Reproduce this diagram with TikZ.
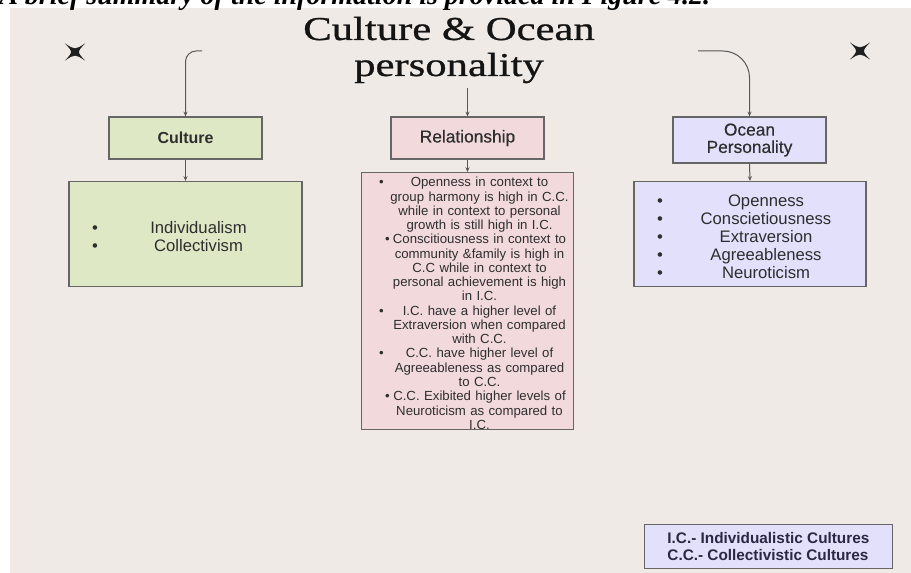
\documentclass[tikz,border=0pt]{standalone}
\usepackage{fontspec}
\setmainfont{Liberation Sans}
\newfontfamily\titlefont{Liberation Serif}[FakeStretch=1.28, FakeBold=0.8]
\newfontfamily\capfont{Liberation Serif}
\newfontfamily\medfont{Liberation Sans}[FakeBold=0.4]
\usetikzlibrary{arrows.meta}

\definecolor{paper}{HTML}{EFEAE6}
\definecolor{culfill}{HTML}{DFE8C5}
\definecolor{relfill}{HTML}{F2D9DB}
\definecolor{ocfill}{HTML}{E2E0FB}
\definecolor{edge}{HTML}{666666}
\definecolor{ink}{HTML}{2E2E2E}

% bullet lines: text centred right of \listind
\newlength{\listind}
\newcommand{\bpoint}[2][9pt]{\par\noindent\rlap{\hspace*{#1}\textbullet}\hspace*{\listind}\makebox[\dimexpr\hsize-\listind\relax][c]{#2}}
\newcommand{\bcont}[1]{\par\noindent\hspace*{\listind}\makebox[\dimexpr\hsize-\listind\relax][c]{#1}}
\newcommand{\listsetup}[2]{\setlength{\listind}{#1}\baselineskip=#2\relax\lineskiplimit=-10pt\parskip=0pt\relax}

\tikzset{
  box/.style={draw=edge, line width=0.9pt, text=ink, inner ysep=0pt},
  headbox/.style={box, minimum width=114.75pt, minimum height=31.5pt, align=center},
  listbox/.style={box, inner xsep=8.25pt, minimum height=78.75pt},
  conn/.style={draw=ink!80, line width=0.75pt, ->},
  sparkle/.pic={\fill[black!88] (-10,-8.5) .. controls (0,-2) .. (10,-8.5)
    .. controls (2,0) .. (10,8.5) .. controls (0,2) .. (-10,8.5)
    .. controls (-2,0) .. cycle;}
}

\begin{document}
\begin{tikzpicture}[x=0.75pt, y=-0.75pt, >={Stealth[length=3.5pt,width=3pt]}]
    \useasboundingbox (0,0) rectangle (911,573);
    \fill[white] (0,0) rectangle (911,573);
    \fill[paper] (10,8) rectangle (911,573);

    % cut caption at the top
    \begin{scope}
        \clip (0,0) rectangle (911,573);
        \node[font=\capfont\bfseries\itshape\fontsize{21pt}{24pt}\selectfont, anchor=base west, inner sep=0pt] (caption) at (-1,5) {A brief summary of the information is provided in Figure 4.2.};
    \end{scope}

    % Title
    \node[font=\titlefont\fontsize{25pt}{27pt}\selectfont, text=black!92, align=center, inner sep=0pt] (title) at (449,50) {Culture \& Ocean\\personality};
    \pic at (75,52) {sparkle};
    \pic at (860,51) {sparkle};

    % heading boxes
    \node[headbox, fill=culfill, font=\bfseries\fontsize{12pt}{13pt}\selectfont] (culhead) at (185.5,138) {Culture};
    \node[headbox, fill=relfill, font=\medfont\fontsize{13pt}{14pt}\selectfont] (relhead) at (467.5,138) {Relationship};
    \node[headbox, fill=ocfill, minimum height=34.5pt, font=\medfont\fontsize{13pt}{13pt}\selectfont] (ochead) at (749.5,140) {Ocean\\Personality};

    % lists
    \node[listbox, fill=culfill, text width=158.25pt, font=\fontsize{12.5pt}{13.5pt}\selectfont] (cullist) at (185.5,234) {\listsetup{19.5pt}{13.5pt}%
        \bpoint{Individualism}
        \bpoint{Collectivism}};
    \node[listbox, fill=relfill, text width=148.5pt, inner xsep=5.25pt, minimum height=189pt, font=\fontsize{9.9pt}{10.7pt}\selectfont] (rellist) at (467.5,301) {\listsetup{18pt}{10.7pt}%
        \bpoint[8pt]{Openness in context to}
        \bcont{group harmony is high in C.C.}
        \bcont{while in context to personal}
        \bcont{growth is still high in I.C.}
        \bpoint[12.5pt]{Conscitiousness in context to}
        \bcont{community \&family is high in}
        \bcont{C.C while in context to}
        \bcont{personal achievement is high}
        \bcont{in I.C.}
        \bpoint[8pt]{I.C. have a higher level of}
        \bcont{Extraversion when compared}
        \bcont{with C.C.}
        \bpoint[8pt]{C.C. have higher level of}
        \bcont{Agreeableness as compared}
        \bcont{to C.C.}
        \bpoint[12.5pt]{C.C. Exibited higher levels of}
        \bcont{Neuroticism as compared to}
        \bcont{I.C.}};
    \node[listbox, fill=ocfill, text width=157.5pt, font=\fontsize{12.5pt}{13.5pt}\selectfont] (oclist) at (750,234) {\listsetup{24pt}{13.5pt}%
        \bpoint{Openness}
        \bpoint{Conscietiousness}
        \bpoint{Extraversion}
        \bpoint{Agreeableness}
        \bpoint{Neuroticism}};

    % legend
    \node[box, fill=ocfill, anchor=north east, minimum width=186pt, minimum height=33pt, align=left, text=ink!90!blue, font=\bfseries\fontsize{11.5pt}{12.75pt}\selectfont] (legend) at (893,524) {I.C.- Individualistic Cultures\\C.C.- Collectivistic Cultures};

    % connectors
    \coordinate (lstart) at (202,51);
    \coordinate (mstart) at (467.5,88);
    \coordinate (rstart) at (698,51);
    \draw[conn, rounded corners=8pt] (lstart) -| (culhead.north);
    \draw[conn] (mstart) -- (relhead.north);
    \draw[conn, rounded corners=20pt] (rstart) -| (ochead.north);
    \draw[conn] (culhead.south) -- (cullist.north);
    \draw[conn] (relhead.south) -- (rellist.north);
    \draw[conn] (ochead.south) -- (oclist.north);

\end{tikzpicture}
\end{document}
